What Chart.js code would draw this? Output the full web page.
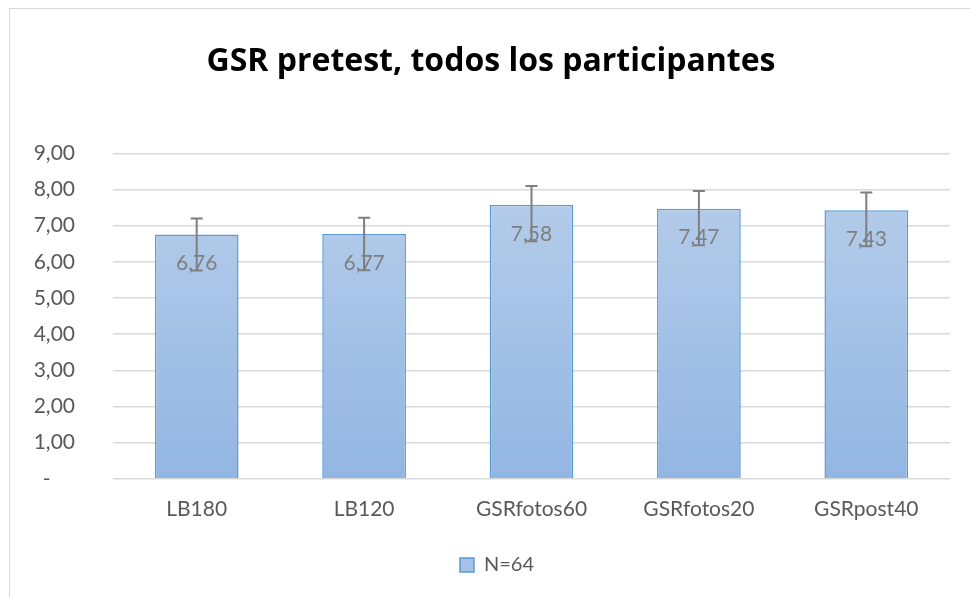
<!DOCTYPE html>
<html>
<head>
<meta charset="utf-8">
<script src="https://cdn.jsdelivr.net/npm/chart.js@4/dist/chart.umd.min.js"></script>
<style>
  html, body { margin: 0; padding: 0; background: #fff; overflow: hidden; }
  #wrap { position: relative; width: 970px; height: 597px; }
  #frame { position: absolute; left: 9px; top: 8px; width: 980px; height: 620px; border: 1.5px solid #d9d9d9; box-sizing: border-box; }
  canvas { position: absolute; left: 0; top: 0; }
</style>
</head>
<body>
<div id="wrap">
  <div id="frame"></div>
  <canvas id="chart" width="970" height="597"></canvas>
</div>
<script>
// values
const categories = ['LB180', 'LB120', 'GSRfotos60', 'GSRfotos20', 'GSRpost40']
const means = [6.76, 6.77, 7.58, 7.47, 7.43]
const errPlus = [0.44, 0.45, 0.52, 0.49, 0.49]
const errMinus = [1.0, 1.0, 1.01, 1.01, 1.0]
const seriesLabel = 'N=64'
const yTicks = [0, 1, 2, 3, 4, 5, 6, 7, 8, 9]

const fmt = (v) => v === 0 ? '-\u2007\u2007' : v.toFixed(2).replace('.', ',')

// Excel placed title and legend a bit right of the canvas centre
const nudgeBoxes = {
  id: 'nudgeBoxes',
  afterLayout(chart) {
    chart.titleBlock.left += 16
    chart.titleBlock.right += 16
    chart.legend.left += 22
    chart.legend.right += 22
  }
}

// data labels inside the bar end, then error bars drawn on top
const barExtras = {
  id: 'barExtras',
  afterDatasetsDraw(chart) {
    const ctx = chart.ctx
    const meta = chart.getDatasetMeta(0)
    const y = chart.scales.y
    ctx.save()
    ctx.font = '21px Lato'
    ctx.fillStyle = '#7f7f7f'
    ctx.textAlign = 'center'
    ctx.textBaseline = 'middle'
    meta.data.forEach((bar, i) => {
      ctx.fillText(fmt(means[i]), bar.x, bar.y + 29)
    })
    ctx.strokeStyle = '#7f7f7f'
    ctx.lineWidth = 2
    meta.data.forEach((bar, i) => {
      const top = y.getPixelForValue(means[i] + errPlus[i])
      const bot = y.getPixelForValue(means[i] - errMinus[i])
      ctx.beginPath()
      ctx.moveTo(bar.x, top)
      ctx.lineTo(bar.x, bot)
      ctx.moveTo(bar.x - 6, top)
      ctx.lineTo(bar.x + 6, top)
      ctx.moveTo(bar.x - 6, bot)
      ctx.lineTo(bar.x + 6, bot)
      ctx.stroke()
    })
    ctx.restore()
  }
}

function barGradient(context) {
  const area = context.chart.chartArea
  if (!area) return '#a5c2e6'
  const g = context.chart.ctx.createLinearGradient(0, area.top, 0, area.bottom)
  g.addColorStop(0, '#b9cfeb')
  g.addColorStop(1, '#92b6e2')
  return g
}

new Chart(document.getElementById('chart'), {
  type: 'bar',
  data: {
    labels: categories,
    datasets: [{
      label: seriesLabel,
      data: means,
      backgroundColor: barGradient,
      borderColor: '#5b9bd5',
      borderWidth: 1.5,
      categoryPercentage: 1,
      barPercentage: 0.5
    }]
  },
  options: {
    responsive: false,
    animation: false,
    layout: { padding: { left: 0, right: 20, top: 0, bottom: 12 } },
    plugins: {
      title: {
        display: true,
        text: 'GSR pretest, todos los participantes',
        color: '#000',
        font: { family: 'Open Sans', size: 32, weight: 'bold' },
        padding: { top: 43, bottom: 72 }
      },
      legend: {
        position: 'bottom',
        labels: {
          color: '#595959',
          font: { family: 'Lato', size: 20 },
          boxWidth: 14,
          boxHeight: 14,
          padding: 15,
          generateLabels(chart) {
            const items = Chart.defaults.plugins.legend.labels.generateLabels(chart)
            items.forEach(it => { it.fillStyle = '#a5c2e6'; it.strokeStyle = '#5b9bd5'; it.lineWidth = 1.5 })
            return items
          }
        }
      },
      tooltip: { enabled: false }
    },
    scales: {
      x: {
        grid: { display: false, drawTicks: false },
        border: { display: false },
        ticks: { color: '#595959', font: { family: 'Lato', size: 21 }, padding: 18 }
      },
      y: {
        min: 0,
        max: 9,
        afterBuildTicks(scale) { scale.ticks = yTicks.map(v => ({ value: v })) },
        afterFit(scale) { scale.width = 113 },
        grid: { color: '#d9d9d9', lineWidth: 1.5, drawTicks: false },
        border: { display: false },
        ticks: {
          color: '#595959',
          font: { family: 'Lato', size: 21 },
          padding: 38,
          callback: (v) => fmt(v)
        }
      }
    }
  },
  plugins: [barExtras, nudgeBoxes]
})
</script>
</body>
</html>
